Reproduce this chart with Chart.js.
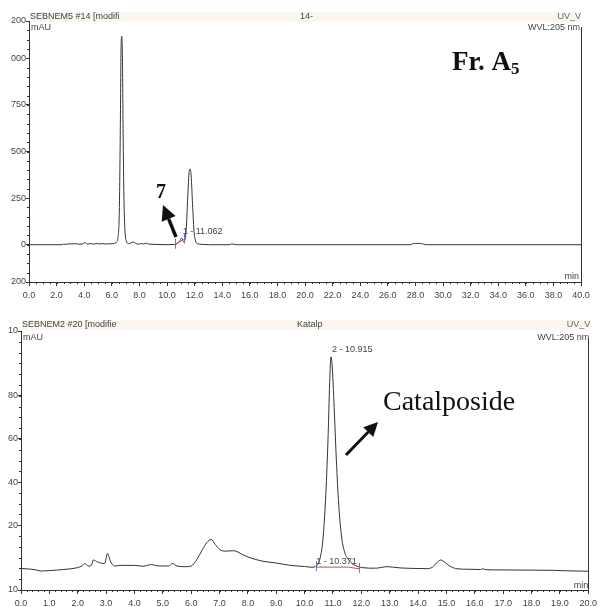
<!DOCTYPE html>
<html>
<head>
<meta charset="utf-8">
<script src="https://cdn.jsdelivr.net/npm/chart.js@4.4.1/dist/chart.umd.min.js"></script>
<style>
  html, body { margin: 0; padding: 0; background: #fff; }
  #page { position: relative; width: 601px; height: 607px; overflow: hidden; }
  .panel { position: absolute; left: 0; width: 601px; }
  #topPanel { top: 0; height: 300px; }
  #botPanel { top: 305px; height: 302px; }
</style>
</head>
<body>
<div id="page">
  <div class="panel" id="topPanel"><canvas id="topChart"></canvas></div>
  <div class="panel" id="botPanel"><canvas id="botChart"></canvas></div>
</div>
<script>
// Fr. A5 trace: retention time (min) / absorbance (mAU)
const topTime = [0, 2.4, 2.5, 2.7, 2.9, 3.1, 3.3, 3.6, 3.9, 4.05,
  4.15, 4.3, 4.5, 4.7, 4.9, 5.1, 5.3, 5.5, 5.8, 6.0,
  6.2, 6.35, 6.45, 6.55, 6.62, 6.67, 6.72, 6.77, 6.82, 6.88,
  6.95, 7.05, 7.2, 7.4, 7.55, 7.7, 7.9, 8.1, 8.3, 8.5,
  8.7, 9.0, 10.0, 10.5, 10.7, 10.9, 11.06, 11.2, 11.3, 11.4,
  11.5, 11.58, 11.67, 11.75, 11.85, 11.95, 12.05, 12.2, 12.5, 13.0,
  14.5, 14.7, 14.9, 15.1, 27.6, 27.8, 28.0, 28.3, 28.6, 28.8, 40.0];
const topSignal = [0, 0, 3, 2, 5, 4, 6, 3, 4, 12,
  6, 4, 6, 3, 7, 4, 6, 4, 5, 5,
  8, 15, 40, 200, 650, 1050, 1118, 1000, 600, 250,
  80, 20, 6, 10, 15, 8, 3, 6, 4, 8,
  3, 2, 0, 1, 5, 18, 35, 15, 25, 90,
  250, 370, 407, 370, 220, 80, 25, 6, 2, 0,
  0, 4, 2, 0, 0, 4, 7, 7, 3, 0, 0];
const topYTicks = [-200, 0, 250, 500, 750, 1000, 1200];
const topYLabels = ['200', '0', '250', '500', '750', '000', '200'];

// Catalposide standard trace
const botTime = [0, 0.3, 0.5, 0.7, 1.0, 1.5, 2.0, 2.15, 2.25, 2.38,
  2.48, 2.55, 2.7, 2.95, 3.05, 3.15, 3.3, 3.5, 4.0, 4.3,
  4.6, 4.8, 5.2, 5.35, 5.5, 5.8, 6.0, 6.2, 6.4, 6.55,
  6.7, 6.85, 7.0, 7.2, 7.5, 7.8, 8.0, 8.5, 9.0, 9.5,
  10.0, 10.3, 10.37, 10.45, 10.55, 10.65, 10.75, 10.83, 10.88, 10.93,
  10.98, 11.05, 11.12, 11.2, 11.3, 11.4, 11.55, 11.7, 11.9, 12.0,
  12.5, 12.9, 13.1, 13.4, 13.8, 14.3, 14.5, 14.65, 14.8, 14.95,
  15.1, 15.4, 15.8, 16.2, 16.3, 16.4, 17.0, 18.0, 18.8, 19.2, 20.0];
const botSignal = [0, -0.3, -0.6, -1.2, -1.0, -0.5, 0.4, 1.2, 2.2, 1.1,
  1.4, 3.9, 3.0, 2.2, 7.0, 3.4, 1.1, 1.4, 1.4, 1.0,
  1.8, 1.2, 1.1, 2.3, 1.1, 0.8, 1.1, 4.2, 8.8, 11.9,
  13.4, 11.1, 8.8, 8.0, 8.2, 6.5, 5.3, 3.4, 2.5, 1.4,
  0.9, 0.5, 0.9, 1.6, 5, 14, 35, 62, 85, 98,
  92, 72, 50, 30, 15, 8, 4, 2, 0.8, 0.4,
  0.1, 0.8, 0.6, 0.2, 0, -0.1, 0.5, 2.5, 3.9, 2.8,
  1.2, -0.2, -0.4, -0.5, -0.2, -0.6, -0.7, -0.8, -0.9, -1.1, -1.3];
const botYTicks = [-10, 20, 40, 60, 80, 110];
const botYLabels = ['10', '20', '40', '60', '80', '10'];

// integrated peaks: [label, retention time, height used for label]
const topPeaks = [['1 - 11.062', 11.062, 35]];
const topBaseline = [[10.58, 0], [11.2, 28]];
const botPeaks = [['2 - 10.915', 10.93, 98], ['1 - 10.371', 10.371, 0]];
const botBaseline = [[10.4, 0.6], [11.55, 0.6], [11.92, -0.2]];

Chart.defaults.font.family = "'Liberation Sans', Arial, sans-serif";
Chart.defaults.font.size = 9;
Chart.defaults.color = '#444';

const AXIS = '#333';

function toPoints(xs, ys) {
  return xs.map((x, i) => ({ x: x, y: ys[i] }));
}

function minorTicks(ctx, s, step, len) {
  const n = Math.round((s.max - s.min) / step);
  ctx.beginPath();
  for (let i = 0; i <= n; i++) {
    const p = Math.round(s.getPixelForValue(s.min + i * step)) + 0.5;
    if (s.isHorizontal()) {
      ctx.moveTo(p, s.top); ctx.lineTo(p, s.top + len);
    } else {
      ctx.moveTo(s.right - len, p); ctx.lineTo(s.right, p);
    }
  }
  ctx.stroke();
}

function arrow(ctx, x1, y1, x2, y2, w, headLen, headW) {
  const a = Math.atan2(y2 - y1, x2 - x1);
  const bx = x2 - headLen * Math.cos(a), by = y2 - headLen * Math.sin(a);
  ctx.save();
  ctx.strokeStyle = '#111';
  ctx.fillStyle = '#111';
  ctx.lineWidth = w;
  ctx.beginPath(); ctx.moveTo(x1, y1); ctx.lineTo(bx, by); ctx.stroke();
  ctx.beginPath();
  ctx.moveTo(x2, y2);
  ctx.lineTo(bx + headW / 2 * Math.sin(a), by - headW / 2 * Math.cos(a));
  ctx.lineTo(bx - headW / 2 * Math.sin(a), by + headW / 2 * Math.cos(a));
  ctx.closePath(); ctx.fill();
  ctx.restore();
}

function header(ctx, area, bandTop, bandRight, left, center, right, wvlY) {
  ctx.save();
  ctx.fillStyle = '#fbf7f0';
  ctx.fillRect(area.left + 1, bandTop, bandRight - area.left - 1, 10);
  ctx.fillStyle = '#444';
  ctx.font = "9px 'Liberation Sans', Arial, sans-serif";
  ctx.textBaseline = 'middle';
  ctx.textAlign = 'left';
  ctx.fillText(left, area.left + 1, bandTop + 5);
  ctx.fillText(center.text, center.x, bandTop + 5);
  ctx.fillText('mAU', area.left + 2, wvlY);
  ctx.textAlign = 'right';
  ctx.fillStyle = '#666';
  ctx.fillText(right, bandRight, bandTop + 5);
  ctx.fillStyle = '#444';
  ctx.fillText('WVL:205 nm', bandRight - 1, wvlY);
  ctx.restore();
}

function peakMarks(ctx, xs, ys, peaks, baseline) {
  ctx.save();
  ctx.strokeStyle = '#d04848';
  ctx.lineWidth = 1;
  ctx.beginPath();
  baseline.forEach((b, i) => {
    const px = xs.getPixelForValue(b[0]), py = ys.getPixelForValue(b[1]);
    if (i === 0) ctx.moveTo(px, py); else ctx.lineTo(px, py);
  });
  ctx.stroke();
  ctx.strokeStyle = '#6878a8';
  ctx.beginPath();
  [baseline[0], baseline[baseline.length - 1]].forEach(b => {
    const px = Math.round(xs.getPixelForValue(b[0])) + 0.5, py = ys.getPixelForValue(b[1]);
    ctx.moveTo(px, py - 6); ctx.lineTo(px, py + 4);
  });
  ctx.stroke();
  ctx.fillStyle = '#444';
  ctx.font = "9px 'Liberation Sans', Arial, sans-serif";
  ctx.textBaseline = 'middle';
  ctx.textAlign = 'left';
  peaks.forEach(p => {
    ctx.fillText(p[0], xs.getPixelForValue(p[1]) + 1, ys.getPixelForValue(p[2]) - 7);
  });
  ctx.restore();
}

function baseOptions(xMax, xStep, yMin, yMax, yTicks, yLabels, yWidth, xHeight, pad) {
  return {
    responsive: true,
    maintainAspectRatio: false,
    animation: false,
    layout: { padding: pad },
    plugins: { legend: { display: false }, tooltip: { enabled: false } },
    scales: {
      x: {
        type: 'linear', min: 0, max: xMax,
        border: { display: true, color: AXIS, width: 1 },
        grid: { drawOnChartArea: false, drawTicks: true, tickLength: 4, tickColor: AXIS },
        ticks: { stepSize: xStep, autoSkip: false, maxRotation: 0, padding: 4,
          callback: v => v.toFixed(1) },
        afterFit: s => { s.height = xHeight; }
      },
      y: {
        type: 'linear', min: yMin, max: yMax,
        border: { display: true, color: AXIS, width: 1 },
        grid: { drawOnChartArea: false, drawTicks: true, tickLength: 3, tickColor: AXIS },
        ticks: { padding: 0, autoSkip: false,
          callback: (v, i) => yLabels[i] },
        afterBuildTicks: s => { s.ticks = yTicks.map(v => ({ value: v })); },
        afterFit: s => { s.width = yWidth; }
      }
    }
  };
}

const lineStyle = {
  borderColor: '#333', borderWidth: 1, pointRadius: 0,
  cubicInterpolationMode: 'monotone', fill: false
};

new Chart(document.getElementById('topChart'), {
  type: 'line',
  data: { datasets: [Object.assign({ data: toPoints(topTime, topSignal) }, lineStyle)] },
  options: baseOptions(40, 2, -200, 1200, topYTicks, topYLabels, 29, 18,
    { top: 21, right: 20, left: 0, bottom: 0 }),
  plugins: [{
    id: 'topDecor',
    afterDraw(chart) {
      const ctx = chart.ctx, a = chart.chartArea;
      const xs = chart.scales.x, ys = chart.scales.y;
      ctx.save();
      ctx.strokeStyle = AXIS; ctx.lineWidth = 1;
      minorTicks(ctx, xs, 0.5, 2);
      minorTicks(ctx, ys, 50, 2);
      ctx.beginPath();
      ctx.moveTo(Math.round(a.right) + 0.5, 27); ctx.lineTo(Math.round(a.right) + 0.5, a.bottom);
      ctx.stroke();
      ctx.restore();
      header(ctx, a, 12, a.right, 'SEBNEM5 #14 [modifi', { text: '14-', x: 300 }, 'UV_V', 28);
      peakMarks(ctx, xs, ys, topPeaks, topBaseline);
      ctx.save();
      ctx.fillStyle = '#444';
      ctx.textAlign = 'right'; ctx.textBaseline = 'middle';
      ctx.fillText('min', a.right - 2, a.bottom - 5);
      ctx.fillStyle = '#111';
      ctx.textAlign = 'center'; ctx.textBaseline = 'alphabetic';
      ctx.font = "bold 20px 'Liberation Serif', 'Times New Roman', serif";
      ctx.fillText('7', 161, 198);
      ctx.textAlign = 'left';
      ctx.font = "bold 27px 'Liberation Serif', 'Times New Roman', serif";
      ctx.fillText('Fr. A', 452, 70);
      const w = ctx.measureText('Fr. A').width;
      ctx.font = "bold 17px 'Liberation Serif', 'Times New Roman', serif";
      ctx.fillText('5', 452 + w, 74);
      ctx.restore();
      arrow(ctx, 176, 237, 163, 205, 3.5, 15, 15);
    }
  }]
});

new Chart(document.getElementById('botChart'), {
  type: 'line',
  data: { datasets: [Object.assign({ data: toPoints(botTime, botSignal) }, lineStyle)] },
  options: baseOptions(20, 1, -10, 110, botYTicks, botYLabels, 21, 17,
    { top: 26, right: 8, left: 0, bottom: 0 }),
  plugins: [{
    id: 'botDecor',
    afterDraw(chart) {
      const ctx = chart.ctx, a = chart.chartArea;
      const xs = chart.scales.x, ys = chart.scales.y;
      ctx.save();
      ctx.strokeStyle = AXIS; ctx.lineWidth = 1;
      minorTicks(ctx, xs, 0.2, 2);
      minorTicks(ctx, ys, 5, 2);
      ctx.beginPath();
      ctx.moveTo(Math.round(a.right) + 0.5, 33); ctx.lineTo(Math.round(a.right) + 0.5, a.bottom);
      ctx.stroke();
      ctx.restore();
      header(ctx, a, 15, a.right + 2, 'SEBNEM2 #20 [modifie', { text: 'Katalp', x: 297 }, 'UV_V', 33);
      peakMarks(ctx, xs, ys, botPeaks, botBaseline);
      ctx.save();
      ctx.fillStyle = '#444';
      ctx.textAlign = 'right'; ctx.textBaseline = 'middle';
      ctx.fillText('min', a.right, a.bottom - 4);
      ctx.fillStyle = '#111';
      ctx.textAlign = 'left'; ctx.textBaseline = 'alphabetic';
      ctx.font = "28px 'Liberation Serif', 'Times New Roman', serif";
      ctx.fillText('Catalposide', 383, 105);
      ctx.restore();
      arrow(ctx, 346, 150, 378, 117, 3, 14, 14);
    }
  }]
});
</script>
</body>
</html>
